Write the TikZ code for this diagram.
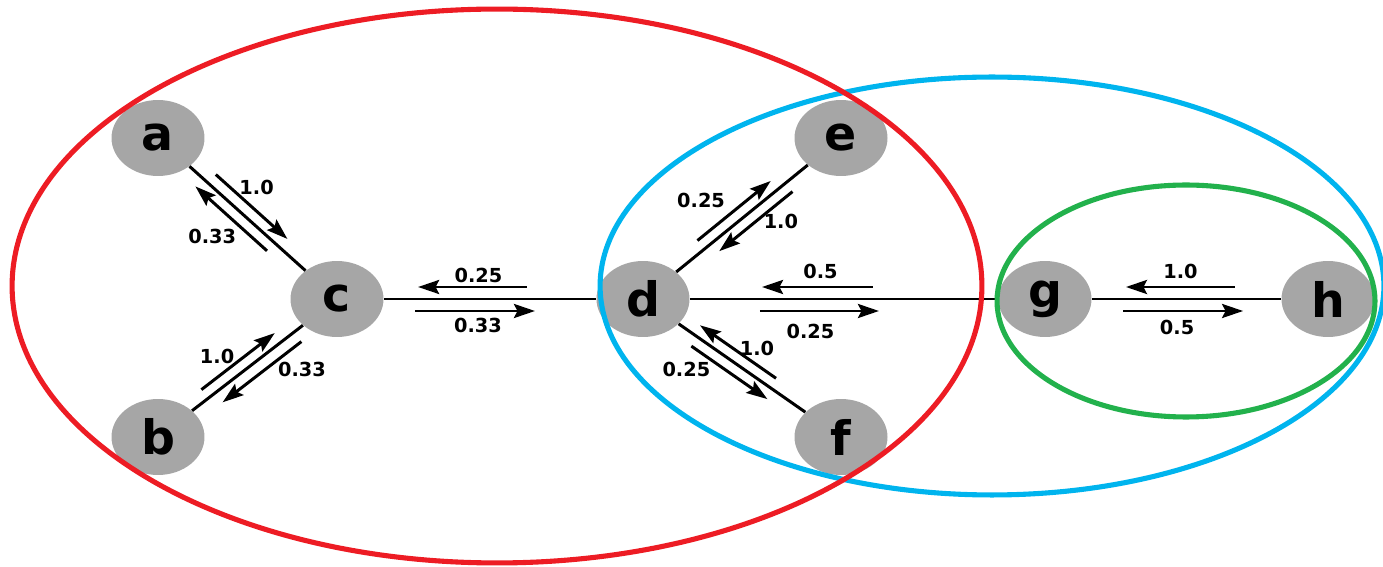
\documentclass[tikz,border=0pt]{standalone}
\usepackage{fontspec}
\setmainfont{DejaVu Sans}
\usepackage{tikz}
\usetikzlibrary{positioning,arrows.meta,shapes.geometric,calc}
\definecolor{nodegray}{HTML}{A6A6A6}
\definecolor{ringred}{HTML}{ED1C24}
\definecolor{ringblue}{HTML}{00B4EE}
\definecolor{ringgreen}{HTML}{22B14C}

\begin{document}
\begin{tikzpicture}[
  x=0.02cm,y=-0.02cm,
  vertex/.style={ellipse,fill=nodegray,minimum width=1.86cm,minimum height=1.52cm,inner sep=0pt,font=\fontsize{27}{27}\selectfont\bfseries},
  link/.style={line width=1.7pt},
  arr/.style={-{Stealth[length=4.2mm,width=2.8mm,inset=0.7mm]},line width=1.7pt},
  wt/.style={font=\fontsize{11}{13}\selectfont\bfseries,inner sep=0pt},
  ring/.style={line width=2.9pt}
]
  \useasboundingbox (0,0) rectangle (1383,567);
  % vertices
  \node[vertex] (a) at (158,138) {a};
  \node[vertex] (b) at (158,437) {b};
  \node[vertex] (c) at (337,299) {c};
  \node[vertex] (d) at (643,299) {d};
  \node[vertex] (e) at (841,138) {e};
  \node[vertex] (f) at (841,437) {f};
  \node[vertex] (g) at (1045,299) {g};
  \node[vertex] (h) at (1328,299) {h};
  % links
  \draw[link] (a)--(c);
  \draw[link] (b)--(c);
  \draw[link] (c)--(d);
  \draw[link] (d)--(e);
  \draw[link] (d)--(f);
  \draw[link] (d)--(g);
  \draw[link] (g)--(h);
  % weights
  \draw[arr] ($(a)!0.28!(c)!0.23cm!90:(c)$)--($(a)!0.68!(c)!0.23cm!90:(c)$) node[wt,midway,shift={(5,-19)}] {1.0};
  \draw[arr] ($(a)!0.65!(c)!0.22cm!-90:(c)$)--($(a)!0.25!(c)!0.22cm!-90:(c)$) node[wt,midway,shift={(-19,18)}] {0.33};
  \draw[arr] ($(b)!0.28!(c)!0.22cm!90:(c)$)--($(b)!0.69!(c)!0.22cm!90:(c)$) node[wt,midway,shift={(-21,-5)}] {1.0};
  \draw[arr] ($(b)!0.76!(c)!0.24cm!-90:(c)$)--($(b)!0.32!(c)!0.24cm!-90:(c)$) node[wt,midway,shift={(40,-3)}] {0.33};
  \draw[arr] ($(c)!0.62!(d)!0.24cm!90:(d)$)--($(c)!0.265!(d)!0.24cm!90:(d)$) node[wt,midway,shift={(6,-12)}] {0.25};
  \draw[arr] ($(c)!0.255!(d)!0.24cm!-90:(d)$)--($(c)!0.647!(d)!0.24cm!-90:(d)$) node[wt,midway,shift={(3,14)}] {0.33};
  \draw[arr] ($(d)!0.31!(e)!0.22cm!90:(e)$)--($(d)!0.68!(e)!0.22cm!90:(e)$) node[wt,midway,shift={(-33,-10)}] {0.25};
  \draw[arr] ($(d)!0.72!(e)!0.22cm!-90:(e)$)--($(d)!0.35!(e)!0.22cm!-90:(e)$) node[wt,midway,shift={(25,0)}] {1.0};
  \draw[arr] ($(d)!0.64!(f)!0.22cm!90:(f)$)--($(d)!0.256!(f)!0.22cm!90:(f)$) node[wt,midway,shift={(19,-3)}] {1.0};
  \draw[arr] ($(d)!0.276!(f)!0.22cm!-90:(f)$)--($(d)!0.66!(f)!0.22cm!-90:(f)$) node[wt,midway,shift={(-43,-3)}] {0.25};
  \draw[arr] ($(d)!0.572!(g)!0.24cm!90:(g)$)--($(d)!0.296!(g)!0.24cm!90:(g)$) node[wt,midway,shift={(3,-16)}] {0.5};
  \draw[arr] ($(d)!0.291!(g)!0.24cm!-90:(g)$)--($(d)!0.587!(g)!0.24cm!-90:(g)$) node[wt,midway,shift={(-9,20)}] {0.25};
  \draw[arr] ($(g)!0.671!(h)!0.24cm!90:(h)$)--($(g)!0.286!(h)!0.24cm!90:(h)$) node[wt,midway,shift={(0,-16)}] {1.0};
  \draw[arr] ($(g)!0.276!(h)!0.24cm!-90:(h)$)--($(g)!0.70!(h)!0.24cm!-90:(h)$) node[wt,midway,shift={(-6,16)}] {0.5};
  % groups
  \draw[ring,ringblue] (992,286) ellipse [x radius=7.84cm,y radius=4.18cm];
  \draw[ring,ringgreen] (1186,301) ellipse [x radius=3.78cm,y radius=2.32cm];
  \draw[ring,ringred] (497,286) ellipse [x radius=9.7cm,y radius=5.54cm];
\end{tikzpicture}
\end{document}
